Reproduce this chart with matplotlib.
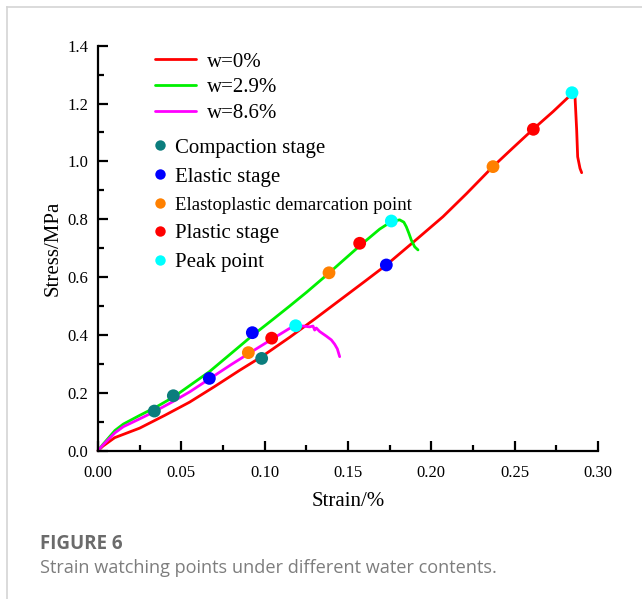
import matplotlib
matplotlib.use("Agg")
import matplotlib.pyplot as plt
from matplotlib.lines import Line2D
from matplotlib.ticker import MultipleLocator

# ---------------- data ----------------
strain_w0 = [0, 0.003, 0.010, 0.025, 0.040, 0.055, 0.070, 0.085, 0.0982, 0.115, 0.130,
             0.145, 0.160, 0.173, 0.189, 0.207, 0.221, 0.2366, 0.249, 0.261, 0.273,
             0.2822, 0.2845, 0.2862, 0.2872, 0.2878, 0.2892, 0.2902]
stress_w0 = [0, 0.016, 0.045, 0.078, 0.122, 0.168, 0.222, 0.278, 0.325, 0.392, 0.455,
             0.520, 0.585, 0.642, 0.720, 0.809, 0.888, 0.980, 1.047, 1.111, 1.172,
             1.222, 1.2375, 1.224, 1.109, 1.016, 0.976, 0.961]

strain_w29 = [0, 0.003, 0.0102, 0.0152, 0.025, 0.0352, 0.0452, 0.055, 0.0668, 0.0852,
              0.0926, 0.1052, 0.115, 0.1252, 0.1382, 0.1452, 0.157, 0.169, 0.176, 0.181,
              0.1835, 0.185, 0.1865, 0.188, 0.190, 0.192]
stress_w29 = [0, 0.022, 0.070, 0.092, 0.122, 0.152, 0.185, 0.225, 0.273, 0.362,
              0.398, 0.455, 0.500, 0.548, 0.612, 0.648, 0.708, 0.766, 0.792, 0.798,
              0.790, 0.774, 0.752, 0.728, 0.705, 0.694]

strain_w86 = [0, 0.003, 0.0102, 0.0152, 0.025, 0.0338, 0.045, 0.0552, 0.0668, 0.080,
              0.0902, 0.1042, 0.115, 0.1186, 0.123, 0.127, 0.129, 0.130, 0.131, 0.133,
              0.137, 0.140, 0.142, 0.1436, 0.145]
stress_w86 = [0, 0.020, 0.062, 0.083, 0.110, 0.135, 0.170, 0.204, 0.248, 0.298,
              0.335, 0.385, 0.423, 0.432, 0.431, 0.428, 0.431, 0.417, 0.424, 0.412,
              0.396, 0.383, 0.368, 0.352, 0.325]

series_labels = ["w=0%", "w=2.9%", "w=8.6%"]
series_colors = ["#ff0000", "#00f000", "#ff00ff"]

stage_labels = ["Compaction stage", "Elastic stage", "Elastoplastic demarcation point",
                "Plastic stage", "Peak point"]
stage_colors = ["#0b7d7d", "#0000ff", "#ff8000", "#ff0000", "#00ffff"]
stage_strain = [
    [0.0338, 0.0452, 0.0982],
    [0.0668, 0.0926, 0.173],
    [0.0902, 0.1386, 0.237],
    [0.1042, 0.157, 0.2612],
    [0.1186, 0.176, 0.2844],
]
stage_stress = [
    [0.137, 0.190, 0.319],
    [0.250, 0.408, 0.642],
    [0.339, 0.615, 0.982],
    [0.389, 0.717, 1.111],
    [0.432, 0.794, 1.2375],
]

x_ticks = [0.00, 0.05, 0.10, 0.15, 0.20, 0.25, 0.30]
y_ticks = [0.0, 0.2, 0.4, 0.6, 0.8, 1.0, 1.2, 1.4]

# ---------------- figure ----------------
W, H = 642, 599
fig = plt.figure(figsize=(W / 100, H / 100), dpi=100)
serif = "Liberation Serif"

ax = fig.add_axes([98 / W, 1 - 450.7 / H, 500 / W, 405 / H])

curves = [(strain_w0, stress_w0), (strain_w29, stress_w29), (strain_w86, stress_w86)]
line_handles = []
for (xs, ys), lab, col in zip(curves, series_labels, series_colors):
    h, = ax.plot(xs, ys, color=col, lw=2.0, label=lab, zorder=2, clip_on=False,
                 solid_joinstyle="round", solid_capstyle="round")
    line_handles.append(h)

marker_handles = []
for xs, ys, lab, col in zip(stage_strain, stage_stress, stage_labels, stage_colors):
    ax.scatter(xs, ys, s=85, color=col, edgecolors="none", zorder=3, clip_on=False)
    marker_handles.append(Line2D([], [], ls="none", marker="o", markersize=7.5,
                                 markerfacecolor=col, markeredgecolor="none", label=lab))

ax.set_xlim(0, 0.30)
ax.set_ylim(0, 1.4)
ax.set_xticks(x_ticks)
ax.set_yticks(y_ticks)
ax.set_xticklabels([f"{v:.2f}" for v in x_ticks])
ax.set_yticklabels([f"{v:.1f}" for v in y_ticks])
ax.xaxis.set_minor_locator(MultipleLocator(0.025))
ax.yaxis.set_minor_locator(MultipleLocator(0.1))

for s in ["top", "right"]:
    ax.spines[s].set_visible(False)
for s in ["left", "bottom"]:
    ax.spines[s].set_linewidth(1.6)

ax.tick_params(which="major", direction="in", length=7, width=1.6, labelsize=12)
ax.tick_params(axis="x", which="major", pad=10)
ax.tick_params(axis="y", which="major", pad=7)
ax.tick_params(which="minor", direction="in", length=4, width=1.6)
for lbl in ax.get_xticklabels() + ax.get_yticklabels():
    lbl.set_fontfamily(serif)

ax.set_xlabel("Strain/%", fontsize=15, fontfamily=serif, labelpad=8)
ax.set_ylabel("Stress/MPa", fontsize=15, fontfamily=serif, labelpad=3)

leg1 = ax.legend(handles=line_handles, loc="upper left",
                 bbox_to_anchor=(155 / W, 1 - 52 / H), bbox_transform=fig.transFigure,
                 frameon=False, prop={"family": serif, "size": 15},
                 handlelength=1.97, handletextpad=0.53, labelspacing=0.29, borderpad=0,
                 borderaxespad=0)
ax.add_artist(leg1)
leg2 = ax.legend(handles=marker_handles, loc="upper left",
                 bbox_to_anchor=(150 / W, 1 - 138 / H), bbox_transform=fig.transFigure,
                 frameon=False, prop={"family": serif, "size": 15},
                 handlelength=1.0, handletextpad=0.2, labelspacing=0.45, borderpad=0,
                 borderaxespad=0)
leg2.get_texts()[2].set_fontsize(13.5)

# caption
fig.text(40 / W, 1 - 544 / H, "FIGURE 6", fontsize=13.5, fontweight="bold",
         color="#6b6b6b", family="Open Sans", va="center", ha="left")
fig.text(40 / W, 1 - 568 / H, "Strain watching points under different water contents.",
         fontsize=13.1, color="#7d7d7d", family="Open Sans", va="center", ha="left")

# page border lines
fig.add_artist(Line2D([7 / W, 1], [1 - 7 / H, 1 - 7 / H], transform=fig.transFigure,
                      color="#d4d4d4", lw=1.2))
fig.add_artist(Line2D([7 / W, 7 / W], [0, 1 - 7 / H], transform=fig.transFigure,
                      color="#d4d4d4", lw=1.2))

fig.savefig("out.png", dpi=100)
